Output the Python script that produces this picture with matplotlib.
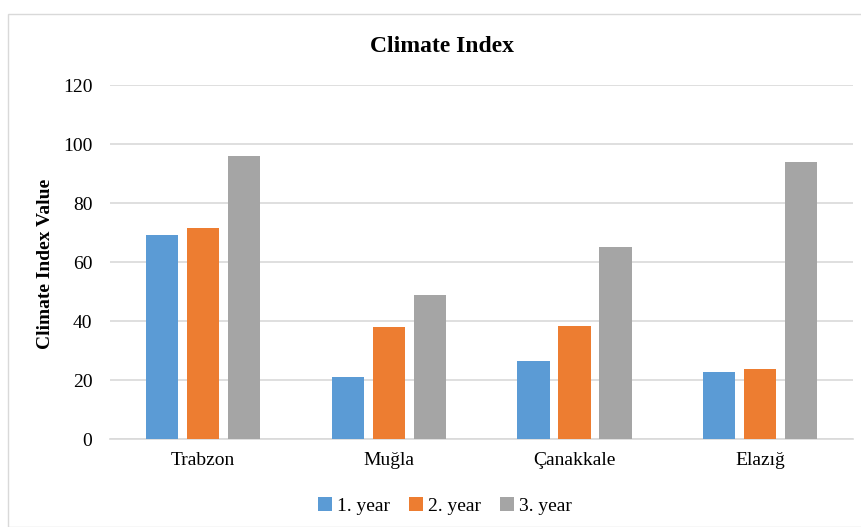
import matplotlib
matplotlib.use("Agg")
import matplotlib.pyplot as plt
import numpy as np
from matplotlib.patches import Rectangle

categories = ["Trabzon", "Muğla", "Çanakkale", "Elazığ"]
series_names = ["1. year", "2. year", "3. year"]
year1 = [69.2, 21.1, 26.4, 22.7]
year2 = [71.7, 38.1, 38.3, 23.8]
year3 = [96.0, 49.0, 65.2, 93.9]
colors = ["#5B9BD5", "#ED7D31", "#A5A5A5"]
yticks = [0, 20, 40, 60, 80, 100, 120]

plt.rcParams['font.family'] = ['Liberation Serif', 'DejaVu Serif']

fig = plt.figure(figsize=(8.61, 5.27), dpi=100)
ax = fig.add_axes([0.1282, 0.1664, 0.9905 - 0.1282, 0.8381 - 0.1664])

# outer chart border
fig.patches.append(Rectangle((8 / 861, 0), 1.0, 1 - 14 / 527, transform=fig.transFigure,
                             fill=False, edgecolor="#d9d9d9", linewidth=1.0))

x = np.arange(len(categories))
w = 0.175
stride = 0.221
for i, (vals, name) in enumerate(zip([year1, year2, year3], series_names)):
    ax.bar(x + (i - 1) * stride, vals, width=w, color=colors[i], label=name, zorder=3)

ax.set_xlim(-0.5, len(categories) - 0.5)
ax.set_ylim(0, 120)
ax.set_yticks(yticks)
ax.set_xticks(x)
ax.set_xticklabels(categories)
ax.tick_params(axis='both', length=0, labelsize=14, colors="#000000")
ax.tick_params(axis='y', pad=13)
ax.tick_params(axis='x', pad=9)
ax.grid(axis='y', color="#d9d9d9", linewidth=1.2, zorder=0)
for s in ["top", "right", "left"]:
    ax.spines[s].set_visible(False)
ax.spines["bottom"].set_color("#d9d9d9")
ax.spines["bottom"].set_linewidth(1.2)

fig.text(442 / 861, 1 - 46 / 527, "Climate Index", ha="center", va="center",
         fontsize=17, fontweight="bold")
fig.text(46 / 861, 1 - 264 / 527, "Climate Index Value", ha="center", va="center",
         rotation=90, fontsize=14, fontweight="bold")

leg = fig.legend(loc="center", bbox_to_anchor=(445 / 861, 1 - 506 / 527), ncol=3, frameon=False,
                 fontsize=14, handlelength=0.7, handleheight=0.7, handletextpad=0.25,
                 columnspacing=1.0)

fig.savefig("out.png", dpi=100)
